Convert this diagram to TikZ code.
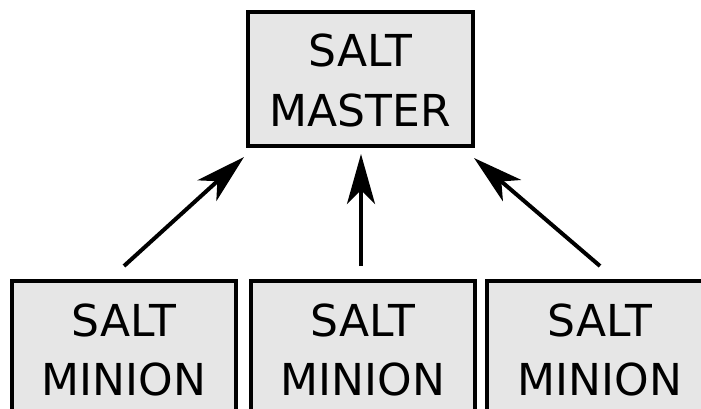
\documentclass[tikz,border=0pt]{standalone}
\usepackage{fontspec}
\setmainfont{DejaVu Sans}
\usetikzlibrary{arrows.meta}
\definecolor{boxfill}{HTML}{E6E6E6}
\begin{document}
\begin{tikzpicture}[x=1pt,y=-1pt,
  box/.style={draw=black, fill=boxfill, line width=3.5pt, rectangle, minimum width=224pt, inner sep=0pt, outer sep=0pt},
  lbl/.style={font=\fontsize{44}{52}\selectfont, anchor=base, inner sep=0pt},
  link/.style={line width=4pt, -{Stealth[length=50pt,width=28pt,inset=14pt]}}]
\useasboundingbox (0,0) rectangle (701,409);
\clip (0,0) rectangle (701,409);
% master
\node[box, minimum width=225pt, minimum height=134pt] (master) at (360.5,79) {};
\node[lbl] (masterA) at (360.5,67) {SALT};
\node[lbl] (masterB) at (360.5,127) {MASTER};
% minions
\node[box, minimum height=200pt] (minionL) at (124,381) {};
\node[lbl] (minionLA) at (124,336) {SALT};
\node[lbl] (minionLB) at (124,395) {MINION};
\node[box, minimum height=200pt] (minionM) at (363,381) {};
\node[lbl] (minionMA) at (363,336) {SALT};
\node[lbl] (minionMB) at (363,395) {MINION};
\node[box, minimum height=200pt] (minionR) at (599,381) {};
\node[lbl] (minionRA) at (600,336) {SALT};
\node[lbl] (minionRB) at (600,395) {MINION};
% arrow ends
\coordinate (sL) at (124,266);
\coordinate (tL) at (244,157);
\coordinate (sM) at (361,266);
\coordinate (tM) at (361,154);
\coordinate (sR) at (600,266);
\coordinate (tR) at (474,158);
\draw[link] (sL) -- (tL);
\draw[link] (sM) -- (tM);
\draw[link] (sR) -- (tR);
\end{tikzpicture}
\end{document}
